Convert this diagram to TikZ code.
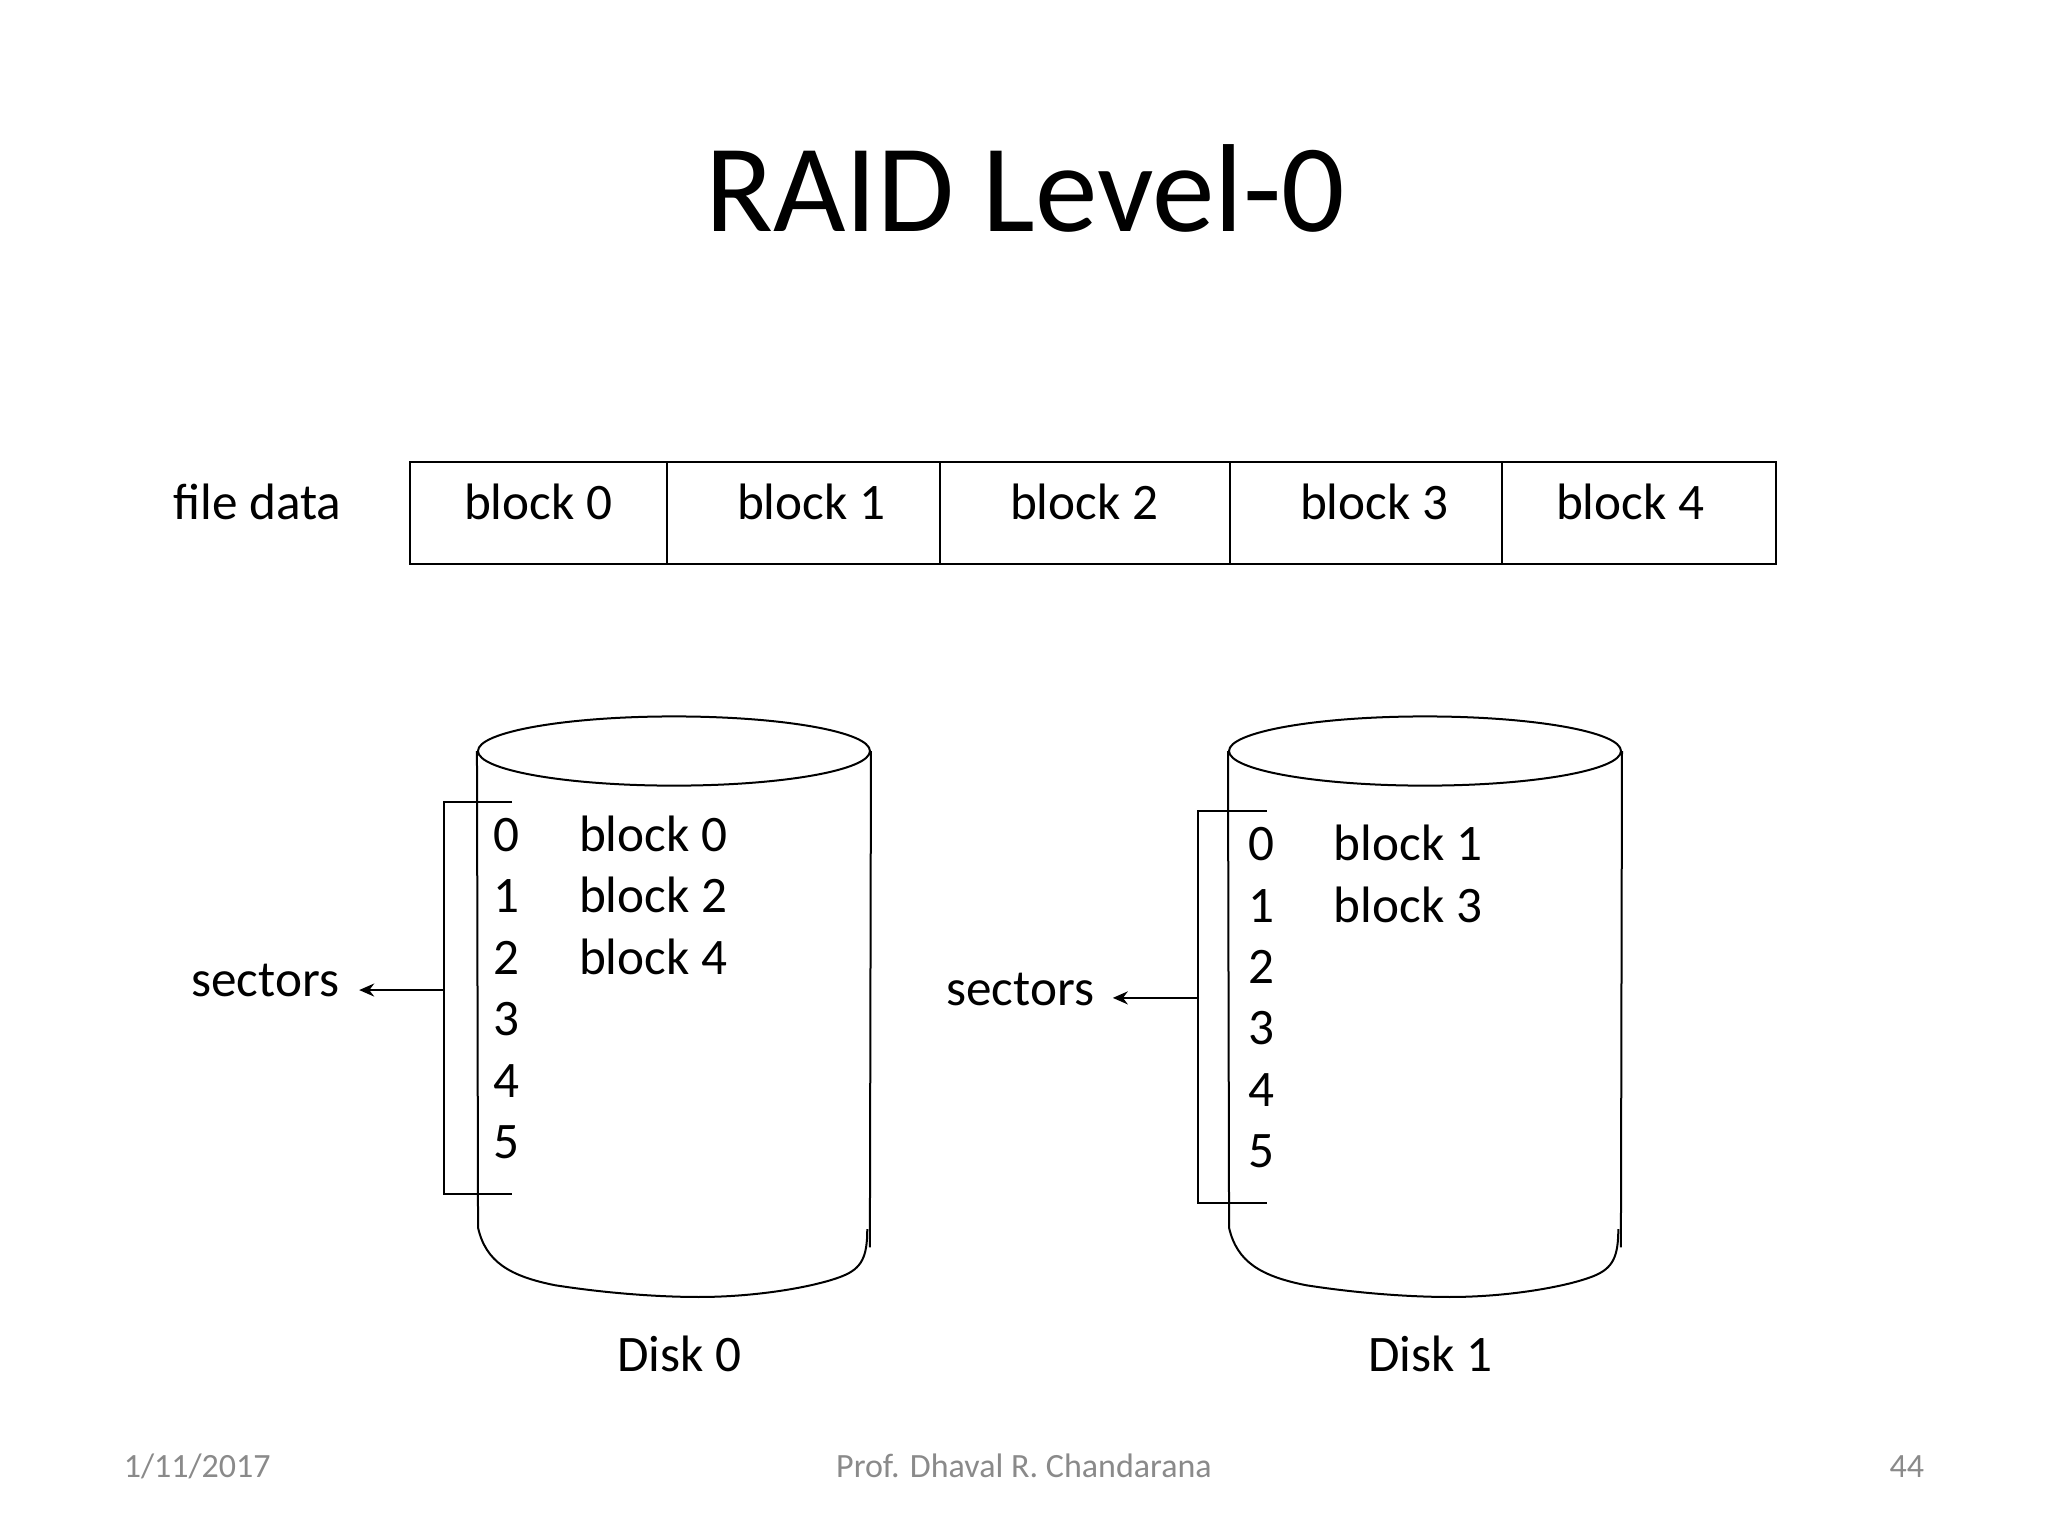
\documentclass[tikz,border=0pt]{standalone}
\usepackage{fontspec}
\setmainfont{Carlito}
\usetikzlibrary{arrows.meta}
\usetikzlibrary{shapes.geometric}
\tikzset{
    every path/.style={line width=1pt},
    txt/.style={anchor=base,inner sep=0pt,font=\fontsize{25.6}{30}\selectfont},
    foot/.style={anchor=base,inner sep=0pt,text=black!46,font=\fontsize{17}{20}\selectfont},
    cell/.style={draw,anchor=north west,inner sep=0pt,minimum height=50.9pt},
    disktop/.style={draw,ellipse,inner sep=0pt,minimum width=196pt,minimum height=34.6pt},
    pointer/.style={-{Stealth[length=7.5pt,width=6.5pt]}}
}
\begin{document}
\begin{tikzpicture}[x=0.65306pt,y=-0.65306pt]
\useasboundingbox (0,0) rectangle (1568,1176);
\node [anchor=base,inner sep=0pt,font=\fontsize{62.6}{70}\selectfont] (title) at (785,177) {RAID Level-0};
%%%%%%%%%%%%%%%%%%%%%%%%%%%%%%%%%%
\node [txt] (filedata) at (197,398) {file data};
\node [cell,minimum width=128.7pt] (cell0) at (313,353) {};
\node [cell,minimum width=136.5pt] (cell1) at (510,353) {};
\node [cell,minimum width=145pt] (cell2) at (719,353) {};
\node [cell,minimum width=135.8pt] (cell3) at (941,353) {};
\node [cell,minimum width=137.1pt] (cell4) at (1149,353) {};
\node [txt] (b0) at (412,398) {block 0};
\node [txt] (b1) at (621,398) {block 1};
\node [txt] (b2) at (830,398) {block 2};
\node [txt] (b3) at (1052,398) {block 3};
\node [txt] (b4) at (1248,398) {block 4};
%%%%%%%%%%%%%%%%%%%%%%%%%%%%%%%%%%
\node [disktop] (top0) at (516,575) {};
\node [txt] (s00) at (388,652) {0};
\node [txt] (s01) at (388,699) {1};
\node [txt] (s02) at (388,746) {2};
\node [txt] (s03) at (388,793) {3};
\node [txt] (s04) at (388,840) {4};
\node [txt] (s05) at (388,887) {5};
\node [txt] (d00) at (500,652) {block 0};
\node [txt] (d01) at (500,699) {block 2};
\node [txt] (d02) at (500,746) {block 4};
\node [txt] (sectors0) at (203,763) {sectors};
\node [txt] (disk0) at (520,1050) {Disk 0};
\coordinate (br0a) at (392,614);
\coordinate (br0b) at (340,614);
\coordinate (br0c) at (340,914);
\coordinate (br0d) at (392,914);
\coordinate (br0m) at (340,758);
\coordinate (arr0) at (275,758);
%%%%%%%%%%%%%%%%%%%%%%%%%%%%%%%%%%
\node [disktop] (top1) at (1091,575) {};
\node [txt] (s10) at (966,659) {0};
\node [txt] (s11) at (966,706) {1};
\node [txt] (s12) at (966,753) {2};
\node [txt] (s13) at (966,800) {3};
\node [txt] (s14) at (966,847) {4};
\node [txt] (s15) at (966,894) {5};
\node [txt] (d10) at (1078,659) {block 1};
\node [txt] (d11) at (1078,706) {block 3};
\node [txt] (sectors1) at (781,770) {sectors};
\node [txt] (disk1) at (1095,1050) {Disk 1};
\coordinate (br1a) at (970,621);
\coordinate (br1b) at (917,621);
\coordinate (br1c) at (917,921);
\coordinate (br1d) at (970,921);
\coordinate (br1m) at (917,764);
\coordinate (arr1) at (852,764);
%%%%%%%%%%%%%%%%%%%%%%%%%%%%%%%%%%
\node [foot] (date) at (151,1131) {1/11/2017};
\node [foot] (prof) at (784,1131) {Prof. Dhaval R. Chandarana};
\node [foot] (page) at (1460,1131) {44};

\draw (top0.west) -- (366,940)
    .. controls (372,966) and (390,977) .. (425,984)
    .. controls (470,991) and (510,993) .. (535,993)
    .. controls (580,993) and (625,985) .. (645,977)
    .. controls (660,971) and (664,962) .. (664,941);
\draw (top0.east) -- (666,955);
\draw (br0a) -- (br0b) -- (br0c) -- (br0d);
\draw [pointer] (br0m) -- (arr0);

\draw (top1.west) -- (941,940)
    .. controls (947,966) and (965,977) .. (1000,984)
    .. controls (1045,991) and (1085,993) .. (1110,993)
    .. controls (1155,993) and (1200,985) .. (1220,977)
    .. controls (1235,971) and (1239,962) .. (1239,941);
\draw (top1.east) -- (1241,955);
\draw (br1a) -- (br1b) -- (br1c) -- (br1d);
\draw [pointer] (br1m) -- (arr1);
\end{tikzpicture}
\end{document}
